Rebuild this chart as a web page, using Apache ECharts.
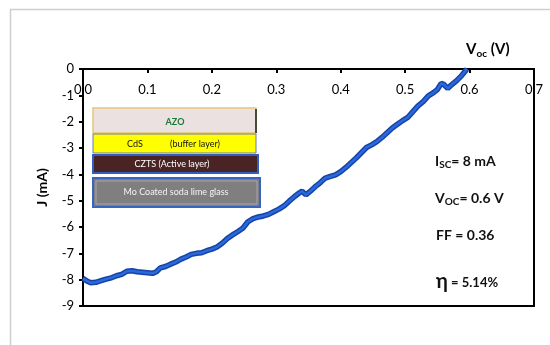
<!DOCTYPE html>
<html>
<head>
<meta charset="utf-8">
<script src="https://cdn.jsdelivr.net/npm/echarts@6/dist/echarts.min.js"></script>
<style>
  html, body { margin: 0; padding: 0; background: #fff; }
  #chart { width: 550px; height: 345px; }
</style>
</head>
<body>
<div id="chart"></div>
<script>
// Measured J-V curve of the CZTS cell: voltage (V) and current density (mA)
const voltage = [
  0.000, 0.006, 0.012, 0.020, 0.028, 0.036, 0.044, 0.052, 0.060, 0.068,
  0.076, 0.084, 0.092, 0.100, 0.108, 0.114, 0.120, 0.128, 0.136, 0.144,
  0.152, 0.160, 0.168, 0.176, 0.184, 0.192, 0.200, 0.208, 0.216, 0.224,
  0.232, 0.240, 0.248, 0.256, 0.264, 0.272, 0.280, 0.288, 0.296, 0.304,
  0.312, 0.320, 0.328, 0.336, 0.340, 0.346, 0.352, 0.360, 0.368, 0.376,
  0.384, 0.392, 0.400, 0.408, 0.416, 0.424, 0.432, 0.440, 0.448, 0.456,
  0.464, 0.472, 0.480, 0.488, 0.496, 0.504, 0.512, 0.520, 0.528, 0.536,
  0.544, 0.550, 0.556, 0.560, 0.566, 0.572, 0.580, 0.588, 0.596
];
const current = [
  -7.95, -8.05, -8.12, -8.10, -8.04, -7.98, -7.93, -7.85, -7.80, -7.68,
  -7.66, -7.70, -7.72, -7.74, -7.76, -7.70, -7.55, -7.50, -7.41, -7.33,
  -7.22, -7.14, -7.04, -7.00, -6.98, -6.90, -6.84, -6.76, -6.62, -6.44,
  -6.30, -6.18, -6.05, -5.80, -5.68, -5.62, -5.58, -5.52, -5.42, -5.32,
  -5.20, -5.02, -4.85, -4.70, -4.64, -4.78, -4.66, -4.48, -4.32, -4.14,
  -4.08, -4.02, -3.90, -3.74, -3.56, -3.38, -3.18, -2.98, -2.88, -2.76,
  -2.60, -2.42, -2.24, -2.10, -1.96, -1.84, -1.62, -1.40, -1.24, -1.02,
  -0.90, -0.78, -0.55, -0.58, -0.74, -0.60, -0.44, -0.24, 0.00
];

// Device layer stack, top to bottom
const layerNames = ['AZO', 'CdS', 'CZTS (Active layer)', 'Mo Coated soda lime glass'];

// Cell parameters
const paramIsc = '8 mA';
const paramVoc = '0.6 V';
const paramFF = '0.36';
const paramEta = '5.14%';

const points = voltage.map((v, i) => [v, current[i]]);
const FONT = 'Lato, "Open Sans", sans-serif';

const chart = echarts.init(document.getElementById('chart'));

const layerFont = { fontFamily: FONT, fontSize: 9 };

chart.setOption({
  animation: false,
  backgroundColor: '#ffffff',
  grid: {
    left: 83, top: 69, right: 16, bottom: 39,
    show: true, borderColor: '#000', borderWidth: 2, backgroundColor: 'transparent'
  },
  xAxis: {
    type: 'value', position: 'top', min: 0, max: 0.7, interval: 0.1,
    axisLine: { show: true, lineStyle: { color: '#000', width: 2 } },
    axisTick: { show: true, inside: true, length: 4, lineStyle: { color: '#000', width: 2 } },
    axisLabel: {
      inside: true, margin: 14, color: '#000', fontFamily: FONT, fontSize: 13,
      formatter: v => v.toFixed(1), showMinLabel: true, showMaxLabel: true
    },
    splitLine: { show: false }
  },
  yAxis: {
    type: 'value', min: -9, max: 0, interval: 1,
    axisLine: { show: true, onZero: false, lineStyle: { color: '#000', width: 2 } },
    axisTick: { show: true, length: 4, lineStyle: { color: '#000', width: 2 } },
    axisLabel: { margin: 9, color: '#000', fontFamily: FONT, fontSize: 13 },
    splitLine: { show: false },
    name: 'J (mA)', nameLocation: 'middle', nameGap: 34, nameRotate: 90,
    nameTextStyle: { color: '#000', fontFamily: FONT, fontSize: 14, fontWeight: 'bold' }
  },
  series: [
    {
      type: 'line', data: points, showSymbol: false, smooth: false, silent: true,
      lineStyle: { color: '#1544a6', width: 5.5 }
    },
    {
      type: 'line', data: points, showSymbol: false, smooth: false, silent: true,
      lineStyle: { color: '#2b68dc', width: 2.5 }
    }
  ],
  graphic: [
    // outer frame
    { type: 'rect', shape: { x: 10.5, y: 9.5, width: 600, height: 400 },
      style: { fill: 'none', stroke: '#cfcfcf', lineWidth: 1.5 }, silent: true },
    // axis title with subscript
    { type: 'text', left: 466, top: 42,
      style: {
        text: '{m|V}{s|oc}{m| (V)}',
        rich: {
          m: { fontFamily: FONT, fontSize: 15, fontWeight: 'bold', fill: '#000' },
          s: { fontFamily: FONT, fontSize: 10, fontWeight: 'bold', fill: '#000', padding: [8, 0, 0, 0] }
        }
      } },
    // layer stack: AZO
    { type: 'rect', shape: { x: 93, y: 108, width: 163, height: 25 },
      style: { fill: '#ece1e1', stroke: '#e6c676', lineWidth: 1.5 } },
    { type: 'line', shape: { x1: 256, y1: 109, x2: 256, y2: 133 }, style: { stroke: '#4a4a38', lineWidth: 2 } },
    { type: 'text', x: 175, y: 122,
      style: { text: layerNames[0], fill: '#1c7a38', align: 'center', verticalAlign: 'middle', ...layerFont, fontWeight: 'bold' } },
    // CdS
    { type: 'rect', shape: { x: 93, y: 134, width: 163, height: 19 },
      style: { fill: '#ffff00', stroke: '#6a78b0', lineWidth: 1 } },
    { type: 'text', x: 135, y: 144,
      style: { text: layerNames[1], fill: '#111', align: 'center', verticalAlign: 'middle', ...layerFont } },
    { type: 'text', x: 195, y: 144,
      style: { text: '(buffer layer)', fill: '#111', align: 'center', verticalAlign: 'middle', ...layerFont } },
    // CZTS
    { type: 'rect', shape: { x: 93, y: 155, width: 165, height: 18 },
      style: { fill: '#4a2424', stroke: '#2f5fc4', lineWidth: 2 } },
    { type: 'text', x: 172, y: 164,
      style: { text: layerNames[2], fill: '#ffffff', align: 'center', verticalAlign: 'middle', ...layerFont } },
    // Mo coated glass
    { type: 'rect', shape: { x: 93, y: 178, width: 167, height: 29 },
      style: { fill: '#7f7f7f', stroke: '#3a64c0', lineWidth: 2 } },
    { type: 'rect', shape: { x: 96, y: 181, width: 161, height: 23 },
      style: { fill: 'none', stroke: '#a8a8b0', lineWidth: 1 } },
    { type: 'text', x: 176, y: 192,
      style: { text: layerNames[3], fill: '#f4f4f4', align: 'center', verticalAlign: 'middle', ...layerFont } },
    // cell parameters
    { type: 'text', left: 435, top: 154,
      style: {
        text: '{m|I}{s|SC}{m|= ' + paramIsc + '}',
        rich: {
          m: { fontFamily: FONT, fontSize: 14, fontWeight: 'bold', fill: '#111' },
          s: { fontFamily: FONT, fontSize: 10, fontWeight: 'bold', fill: '#111', padding: [8, 0, 0, 0] }
        }
      } },
    { type: 'text', left: 435, top: 191,
      style: {
        text: '{m|V}{s|OC}{m|= ' + paramVoc + '}',
        rich: {
          m: { fontFamily: FONT, fontSize: 14, fontWeight: 'bold', fill: '#111' },
          s: { fontFamily: FONT, fontSize: 10, fontWeight: 'bold', fill: '#111', padding: [8, 0, 0, 0] }
        }
      } },
    { type: 'text', left: 436, top: 228,
      style: { text: 'FF = ' + paramFF, fontFamily: FONT, fontSize: 14, fontWeight: 'bold', fill: '#111' } },
    { type: 'text', left: 436, top: 272,
      style: {
        text: '{e|η}{m| = ' + paramEta + '}',
        rich: {
          e: { fontFamily: FONT, fontSize: 20, fontWeight: 'bold', fill: '#111' },
          m: { fontFamily: FONT, fontSize: 13, fontWeight: 'bold', fill: '#111', padding: [2, 0, 0, 0] }
        }
      } }
  ]
});
</script>
</body>
</html>
